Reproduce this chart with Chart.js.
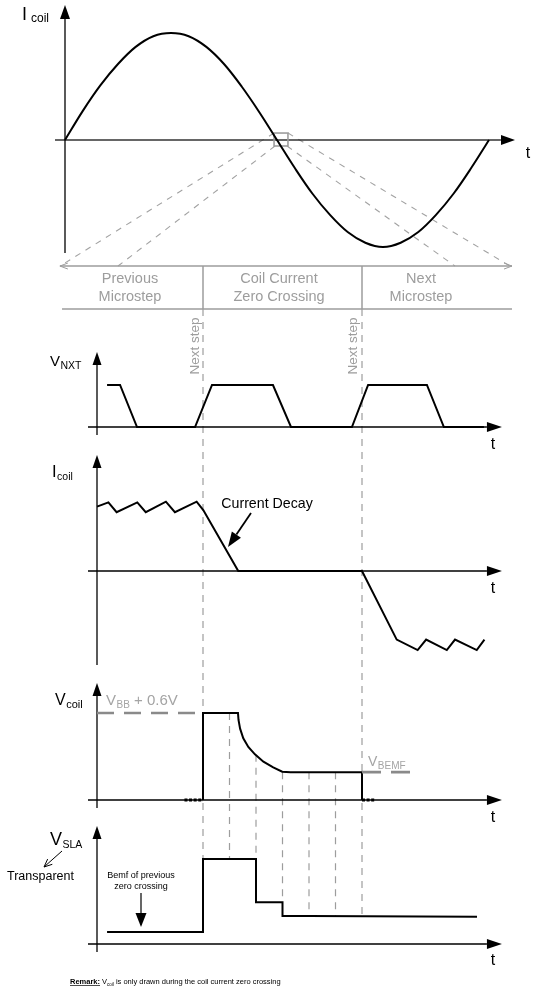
<!DOCTYPE html>
<html>
<head>
<meta charset="utf-8">
<title>Coil current zero crossing</title>
<script src="https://cdn.jsdelivr.net/npm/chart.js@4.4.1/dist/chart.umd.min.js"></script>
<style>
  html, body { margin: 0; padding: 0; background: #fff; }
  #chart { display: block; }
</style>
</head>
<body>
<canvas id="chart" width="535" height="995"></canvas>
<script>
// ---- values ----
// top: coil current over one electrical period (degrees)
const sineDeg = [0, 15, 30, 45, 60, 75, 90, 105, 120, 135, 150, 165, 180, 195, 210, 225, 240, 255, 270, 285, 300, 315, 330, 345, 360];
const sineVal = [0, 0.27, 0.51, 0.71, 0.87, 0.97, 1, 0.97, 0.87, 0.71, 0.5, 0.26, 0, -0.26, -0.5, -0.7, -0.86, -0.96, -1, -0.96, -0.86, -0.7, -0.5, -0.26, 0];

// lower panels share one time axis; "next step" events at t = 4 and t = 10
const nxtT = [0.38, 0.87, 1.51, 3.70, 4.34, 6.64, 7.32, 9.62, 10.23, 12.45, 13.09, 14.6];
const nxtV = [1, 1, 0, 0, 1, 1, 0, 0, 1, 1, 0, 0];

const coilT = [0, 0.43, 0.74, 1.52, 1.84, 2.6, 2.94, 3.76, 4.01, 5.33, 10, 11.31, 12.1, 12.42, 13.2, 13.51, 14.33, 14.62];
const coilV = [0.92, 0.98, 0.84, 0.98, 0.84, 0.99, 0.84, 0.99, 0.87, 0, 0, -0.98, -1.13, -0.98, -1.13, -0.98, -1.13, -0.98];

const vcoilT = [4, 4, 5.32, 5.34, 5.40, 5.52, 5.71, 5.96, 6.28, 6.65, 6.99, 7.3, 10, 10];
const vcoilV = [0, 1, 1, 0.92, 0.82, 0.71, 0.61, 0.525, 0.44, 0.375, 0.325, 0.32, 0.32, 0];
const dotsBefore = [3.3, 4];
const dotsAfter = [10, 10.5];
const vbbT = [0, 4];
const vbbV = [1, 1];
const bemfT = [10, 12];
const bemfV = [0.32, 0.32];

const slaT = [0.38, 4, 4, 6, 6, 7, 7, 8, 14.34];
const slaV = [0.14, 0.14, 1, 1, 0.49, 0.49, 0.33, 0.33, 0.32];

// dashed guides: time, and where they start / stop
const guideT = [4, 5, 6, 7, 8, 9, 10];
const guideFrom = [['yTop', -1.579], ['yVcoil', 1], ['yVcoil', 0.52], ['yVcoil', 0.32], ['yVcoil', 0.32], ['yVcoil', 0.32], ['yTop', -1.579]];
const guideTo = [['ySla', 1], ['ySla', 1], ['ySla', 1], ['ySla', 0.49], ['ySla', 0.33], ['ySla', 0.33], ['ySla', 0.33]];

const W = 535, H = 995;
const GRAY = '#9d9d9d';
const FONT = '"Liberation Sans", Arial, Helvetica, sans-serif';

// scale ranges so that value 0 lands on a given pixel
function xBand(origin, ppu) { return { min: -origin / ppu, max: (W - origin) / ppu }; }
function yBand(base, ppu) { return { min: (base - H) / ppu, max: base / ppu }; }

function pts(xs, ys) { return xs.map((x, i) => ({ x: x, y: Array.isArray(ys) ? ys[i] : ys })); }
function ds(xs, ys, xId, yId, extra) {
  return Object.assign({
    data: pts(xs, ys), xAxisID: xId, yAxisID: yId,
    borderColor: '#000', borderWidth: 2, pointRadius: 0, tension: 0, fill: false
  }, extra || {});
}

function seg(ctx, list, color, width, dash) {
  ctx.save();
  ctx.strokeStyle = color; ctx.lineWidth = width; ctx.setLineDash(dash || []);
  ctx.beginPath();
  list.forEach((p, i) => i ? ctx.lineTo(p[0], p[1]) : ctx.moveTo(p[0], p[1]));
  ctx.stroke();
  ctx.restore();
}
function arrow(ctx, x0, y0, x1, y1, len, half, color, width) {
  const a = Math.atan2(y1 - y0, x1 - x0);
  const bx = x1 - len * Math.cos(a), by = y1 - len * Math.sin(a);
  seg(ctx, [[x0, y0], [bx, by]], color, width);
  ctx.save();
  ctx.fillStyle = color;
  ctx.beginPath();
  ctx.moveTo(x1, y1);
  ctx.lineTo(bx + half * Math.sin(a), by - half * Math.cos(a));
  ctx.lineTo(bx - half * Math.sin(a), by + half * Math.cos(a));
  ctx.closePath();
  ctx.fill();
  ctx.restore();
}
function openHead(ctx, x1, y1, a, len, half, color, width) {
  const bx = x1 - len * Math.cos(a), by = y1 - len * Math.sin(a);
  seg(ctx, [[bx + half * Math.sin(a), by - half * Math.cos(a)], [x1, y1], [bx - half * Math.sin(a), by + half * Math.cos(a)]], color, width);
}
function txt(ctx, s, x, y, size, color, align, weight) {
  ctx.save();
  ctx.font = (weight || '') + ' ' + size + 'px ' + FONT;
  ctx.fillStyle = color || '#000';
  ctx.textAlign = align || 'left';
  ctx.textBaseline = 'alphabetic';
  ctx.fillText(s, x, y);
  const w = ctx.measureText(s).width;
  ctx.restore();
  return w;
}
function subLabel(ctx, x, y, main, sub, size, subSize, color, rest) {
  let w = txt(ctx, main, x, y, size, color);
  w += txt(ctx, sub, x + w + 0.5, y + 3, subSize, color) + 0.5;
  if (rest) w += txt(ctx, rest, x + w, y, size, color);
  return w;
}

const deco = {
  id: 'deco',
  beforeDatasetsDraw(chart) {
    const ctx = chart.ctx, s = chart.scales;
    const T = v => s.xT.getPixelForValue(v);
    const D = v => s.xDeg.getPixelForValue(v);
    const Y = (id, v) => s[id].getPixelForValue(v);

    // fan of dashed lines from the zero crossing down to the bracket
    const fan = [[177.5, 0.065, -4.2], [178.3, -0.056, 45], [188.5, -0.056, 331.1], [189.3, 0.065, 377.8]];
    fan.forEach(f => seg(ctx, [[D(f[0]), Y('yTop', f[1])], [D(f[2]), Y('yTop', -1.178)]], '#a2a2a2', 1.1, [6, 6]));

    // bracket of the three regions
    const yb1 = Y('yTop', -1.178), yb2 = Y('yTop', -1.579);
    seg(ctx, [[T(-1.4), yb1], [T(15.66), yb1]], GRAY, 1.5);
    openHead(ctx, T(-1.4), yb1, Math.PI, 8, 3, GRAY, 1);
    openHead(ctx, T(15.66), yb1, 0, 8, 3, GRAY, 1);
    seg(ctx, [[T(-1.32), yb2], [T(15.66), yb2]], GRAY, 1.5);
    [4, 10].forEach(t => seg(ctx, [[T(t), yb1], [T(t), yb2]], GRAY, 1.5));

    // vertical guides
    guideT.forEach((t, i) => {
      seg(ctx, [[T(t), Y(guideFrom[i][0], guideFrom[i][1])], [T(t), Y(guideTo[i][0], guideTo[i][1])]], GRAY, 1.2, [7, 6]);
    });

    // top axes
    seg(ctx, [[D(-8.5), Y('yTop', 0)], [D(370), Y('yTop', 0)]], '#333', 1.3);
    arrow(ctx, D(370), Y('yTop', 0), D(382.1), Y('yTop', 0), 14, 5, '#000', 1.3);
    arrow(ctx, D(0), Y('yTop', -1.056), D(0), Y('yTop', 1.262), 14, 5, '#000', 1.3);

    // lower panel axes
    [['yNxt', -0.19, 1.786], ['yCoil', -1.343, 1.657], ['yVcoil', -0.092, 1.345], ['ySla', -0.094, 1.388]].forEach(a => {
      arrow(ctx, T(-0.34), Y(a[0], 0), T(15.28), Y(a[0], 0), 15, 5, '#000', 1.3);
      arrow(ctx, T(0), Y(a[0], a[1]), T(0), Y(a[0], a[2]), 13, 4.5, '#000', 1.3);
    });

    // zero crossing marker
    ctx.save();
    ctx.strokeStyle = GRAY; ctx.lineWidth = 1.6;
    ctx.strokeRect(D(177.5), Y('yTop', 0.065), D(189.3) - D(177.5), Y('yTop', -0.056) - Y('yTop', 0.065));
    ctx.restore();
  },
  afterDatasetsDraw(chart) {
    const ctx = chart.ctx;
    // axis names
    txt(ctx, 'I', 22, 20, 18); txt(ctx, 'coil', 31, 22, 12);
    txt(ctx, 't', 528, 158, 16, '#000', 'center');
    subLabel(ctx, 50, 366, 'V', 'NXT', 15, 10.5);
    subLabel(ctx, 52, 477, 'I', 'coil', 16.5, 10.5);
    subLabel(ctx, 55, 705, 'V', 'coil', 16, 11);
    subLabel(ctx, 50, 845, 'V', 'SLA', 18, 10.5);
    [449, 593, 822, 965].forEach(y => txt(ctx, 't', 493, y, 16, '#000', 'center'));

    // region captions
    [['Previous', 'Microstep', 130], ['Coil Current', 'Zero Crossing', 279], ['Next', 'Microstep', 421]].forEach(c => {
      txt(ctx, c[0], c[2], 283, 14.5, GRAY, 'center');
      txt(ctx, c[1], c[2], 301, 14.5, GRAY, 'center');
    });
    [199, 357].forEach(x => {
      ctx.save();
      ctx.translate(x, 346);
      ctx.rotate(-Math.PI / 2);
      txt(ctx, 'Next step', 0, 0, 13.5, GRAY, 'center');
      ctx.restore();
    });

    // annotations
    txt(ctx, 'Current Decay', 267, 508, 14.2, '#000', 'center');
    arrow(ctx, 251, 513, 228, 547, 15, 5.5, '#000', 1.8);
    subLabel(ctx, 106, 705, 'V', 'BB', 15, 10, '#a4a4a4', ' + 0.6V');
    subLabel(ctx, 368, 766, 'V', 'BEMF', 14, 10, '#a4a4a4');

    seg(ctx, [[62, 851], [44, 867]], '#000', 1);
    openHead(ctx, 44, 867, Math.atan2(16, -18), 8, 3.5, '#000', 1);
    txt(ctx, 'Transparent', 7, 880, 12.5);
    txt(ctx, 'Bemf of previous', 141, 878, 9, '#000', 'center');
    txt(ctx, 'zero crossing', 141, 889, 9, '#000', 'center');
    arrow(ctx, 141, 893, 141, 927, 14, 5.5, '#000', 1.2);

    // remark
    const rx = 70, ry = 984;
    let w = txt(ctx, 'Remark:', rx, ry, 7.5, '#000', 'left', 'bold');
    seg(ctx, [[rx, ry + 1.5], [rx + w, ry + 1.5]], '#000', 0.7);
    w += txt(ctx, ' V', rx + w, ry, 7.5);
    w += txt(ctx, 'coil', rx + w, ry + 1.5, 4.5);
    txt(ctx, ' is only drawn during the coil current zero crossing', rx + w, ry, 7.5);
  }
};

const lin = extra => Object.assign({ type: 'linear', display: false, bounds: 'data' }, extra);

new Chart(document.getElementById('chart'), {
  type: 'line',
  data: {
    datasets: [
      ds(sineDeg, sineVal, 'xDeg', 'yTop', { tension: 0.35 }),
      ds(nxtT, nxtV, 'xT', 'yNxt'),
      ds(coilT, coilV, 'xT', 'yCoil'),
      ds(vbbT, vbbV, 'xT', 'yVcoil', { borderColor: '#8a8a8a', borderWidth: 2.6, borderDash: [17, 10] }),
      ds(bemfT, bemfV, 'xT', 'yVcoil', { borderColor: '#8a8a8a', borderWidth: 2.6, borderDash: [19, 10] }),
      ds(vcoilT, vcoilV, 'xT', 'yVcoil'),
      ds(dotsBefore, 0, 'xT', 'yVcoil', { borderWidth: 3, borderDash: [3, 1.6] }),
      ds(dotsAfter, 0, 'xT', 'yVcoil', { borderWidth: 3, borderDash: [3, 1.6] }),
      ds(slaT, slaV, 'xT', 'ySla')
    ]
  },
  options: {
    responsive: false,
    animation: false,
    events: [],
    layout: { padding: 0 },
    plugins: { legend: { display: false }, tooltip: { enabled: false }, title: { display: false } },
    scales: {
      xDeg: lin(Object.assign({ axis: 'x', position: 'bottom' }, xBand(65, 424 / 360))),
      xT: lin(Object.assign({ axis: 'x', position: 'bottom' }, xBand(97, 26.5))),
      yTop: lin(Object.assign({ axis: 'y', position: 'left' }, yBand(140, 107))),
      yNxt: lin(Object.assign({ axis: 'y', position: 'left' }, yBand(427, 42))),
      yCoil: lin(Object.assign({ axis: 'y', position: 'left' }, yBand(571, 70))),
      yVcoil: lin(Object.assign({ axis: 'y', position: 'left' }, yBand(800, 87))),
      ySla: lin(Object.assign({ axis: 'y', position: 'left' }, yBand(944, 85)))
    }
  },
  plugins: [deco]
});
</script>
</body>
</html>
